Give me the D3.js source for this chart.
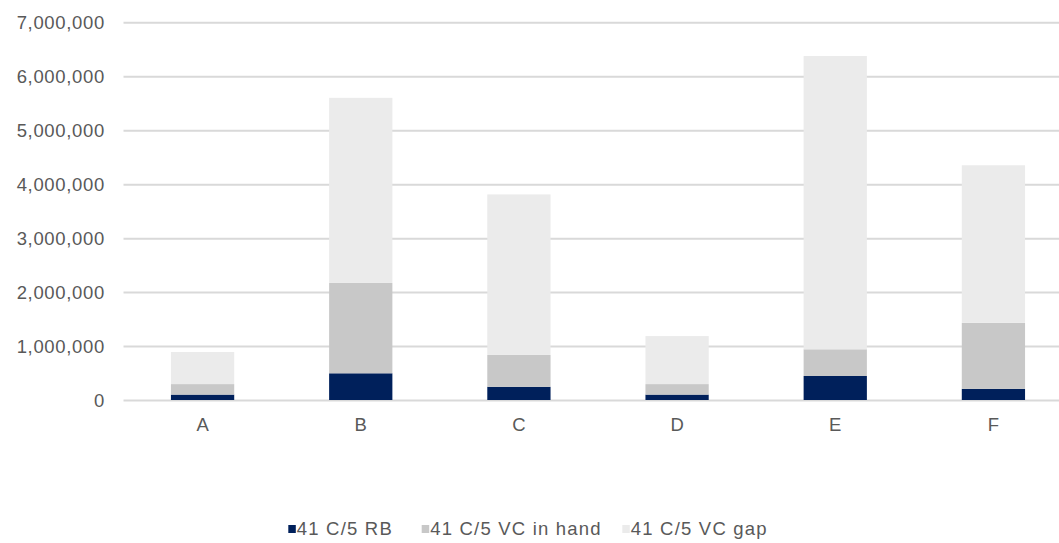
<!DOCTYPE html>
<html><head><meta charset="utf-8">
<script src="https://cdn.jsdelivr.net/npm/d3@7"></script>
<style>
html,body{margin:0;padding:0;background:#fff;}
svg{display:block;font-family:"Liberation Sans",Arial,sans-serif;}
</style></head><body>
<svg id="c" width="1059" height="543"></svg>
<script>
const categories = ["A","B","C","D","E","F"];
const seriesNames = ["41 C/5 RB","41 C/5 VC in hand","41 C/5 VC gap"];
const rb = [100000, 495000, 245000, 100000, 445000, 205000];
const vcInHand = [195000, 1675000, 590000, 195000, 495000, 1225000];
const vcGap = [595000, 3430000, 2975000, 890000, 5435000, 2920000];
const yTicks = [0,1000000,2000000,3000000,4000000,5000000,6000000,7000000];
const colors = ["#00205B","#C8C8C8","#EBEBEB"];

(function(){
const svg = d3.select("#c");
const pLeft = 123.5, pRight = 1072.5, pTop = 22.3, pBottom = 400;

const x = d3.scaleBand().domain(categories).range([pLeft,pRight]).paddingInner(0.6).paddingOuter(0.3);
const y = d3.scaleLinear().domain([0,7000000]).range([pBottom,pTop]);

const rows = categories.map((c,i)=>({cat:c, rb:rb[i], hand:vcInHand[i], gap:vcGap[i]}));
const stack = d3.stack().keys(["rb","hand","gap"])(rows);

// gridlines
const yAxis = d3.axisLeft(y).tickValues(yTicks).tickFormat(d3.format(",")).tickSize(0).tickPadding(0);
const gy = svg.append("g").attr("transform",`translate(${pLeft},0)`).call(yAxis);
gy.select(".domain").remove();
gy.selectAll(".tick line").attr("x2", pRight-pLeft).attr("stroke","#D9D9D9").attr("stroke-width",2);
gy.selectAll(".tick text").attr("x",-18.6).attr("fill","#595959").attr("font-size","18.5px")
  .attr("letter-spacing","0.66px").attr("dy","0.35em");

// bars
svg.append("g").selectAll("g").data(stack).join("g")
  .attr("fill",(d,i)=>colors[i])
  .selectAll("rect").data(d=>d).join("rect")
  .attr("x",d=>x(d.data.cat)).attr("width",x.bandwidth())
  .attr("y",d=>y(d[1])).attr("height",d=>y(d[0])-y(d[1]));

// x axis
const xAxis = d3.axisBottom(x).tickSize(0).tickPadding(0);
const gx = svg.append("g").attr("transform",`translate(0,${pBottom})`).call(xAxis);
gx.select(".domain").remove();
gx.selectAll(".tick text").attr("y",18.3).attr("fill","#595959").attr("font-size","18.5px").attr("dy","0.71em");

// legend
const lg = svg.append("g").attr("transform","translate(0,529)");
const itemStarts = [288.3, 421.7, 622.3];
seriesNames.forEach((n,i)=>{
  const g = lg.append("g").attr("transform",`translate(${itemStarts[i]},0)`);
  g.append("rect").attr("x",0).attr("y",-4).attr("width",7.5).attr("height",8).attr("fill",colors[i]);
  g.append("text").attr("x",8.5).attr("dy","0.35em").attr("fill","#595959").attr("font-size","18.5px")
    .attr("letter-spacing","1.2px").text(n);
});
})();
</script>
</body></html>
